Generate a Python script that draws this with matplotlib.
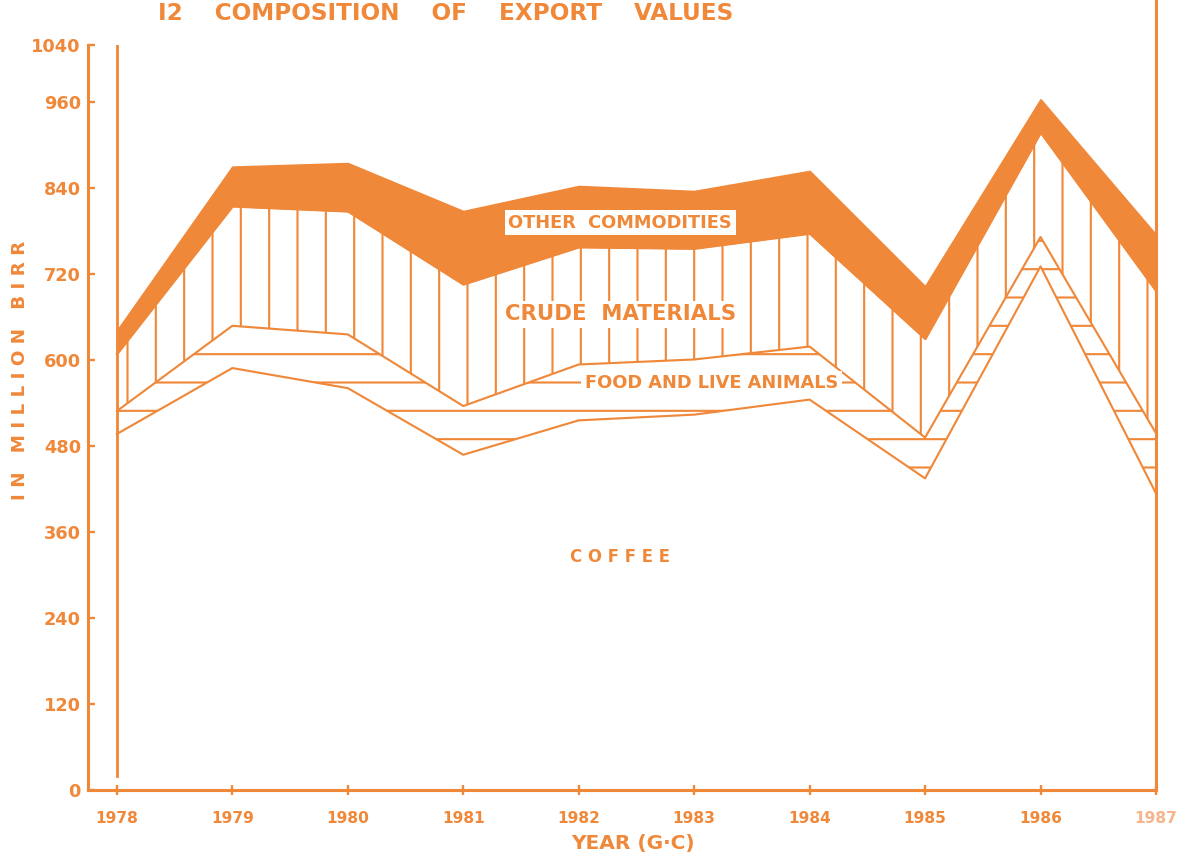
import numpy as np
import matplotlib.pyplot as plt

# данные (млн бырр), читаются с графика
years = [1978, 1979, 1980, 1981, 1982, 1983, 1984, 1985, 1986, 1987]
coffee = [497, 589, 561, 468, 516, 524, 545, 435, 731, 414]
food = [32, 59, 75, 68, 78, 77, 74, 57, 41, 84]
crude = [80, 167, 172, 170, 164, 155, 158, 138, 146, 199]
other = [32, 55, 67, 102, 85, 80, 87, 73, 46, 78]
yticks = [0, 120, 240, 360, 480, 600, 720, 840, 960, 1040]

orange = '#F0883A'
plt.rcParams['font.family'] = ['DejaVu Sans']
plt.rcParams['hatch.linewidth'] = 0.9

DPI = 170
fig = plt.figure(figsize=(1179 / DPI, 853 / DPI), dpi=DPI)
ax = fig.add_axes([88 / 1179, 1 - 790 / 853, (1156 - 88) / 1179, (790 - 45) / 853])

c1 = np.array(coffee)
c2 = c1 + np.array(food)
c3 = c2 + np.array(crude)
c4 = c3 + np.array(other)

# слои
ax.fill_between(years, c2, c3, facecolor='white', edgecolor=orange, hatch='|', linewidth=0)
ax.fill_between(years, c1, c2, facecolor='white', edgecolor=orange, hatch='-', linewidth=0)
ax.fill_between(years, c3, c4, facecolor=orange, edgecolor=orange, linewidth=0.8)
for s in (c1, c2, c3):
    ax.plot(years, s, color=orange, lw=0.9)

# вертикальные линии 1978 и 1987
ax.plot([1978, 1978], [20, 1040], color=orange, lw=1.2)
ax.plot([1987, 1987], [0, 1105], color=orange, lw=1.3, clip_on=False)

ax.set_xlim(1977.75, 1987)
ax.set_ylim(0, 1040)

for side in ('top', 'right'):
    ax.spines[side].set_visible(False)
for side in ('left', 'bottom'):
    ax.spines[side].set_color(orange)
    ax.spines[side].set_linewidth(1.3)

ax.set_yticks(yticks)
ax.set_xticks(years)
ax.tick_params(axis='y', direction='in', length=3, width=1, colors=orange, labelsize=7.5, pad=3)
ax.tick_params(axis='x', direction='inout', length=4, width=1, colors=orange, labelsize=6.5, pad=7)
for lab in ax.get_yticklabels() + ax.get_xticklabels():
    lab.set_fontweight('bold')
ax.get_xticklabels()[-1].set_color('#F5B48C')

# подписи слоёв
box = dict(facecolor='white', edgecolor='none', pad=1.5)
ax.text(1982.36, 792, 'OTHER  COMMODITIES', ha='center', va='center', color=orange,
        fontsize=7.5, fontweight='bold', bbox=box)
ax.text(1982.36, 664, 'CRUDE  MATERIALS', ha='center', va='center', color=orange,
        fontsize=9, fontweight='bold', bbox=box)
ax.text(1983.15, 568, 'FOOD AND LIVE ANIMALS', ha='center', va='center', color=orange,
        fontsize=7.5, fontweight='bold', bbox=box)
ax.text(1982.36, 325, 'C O F F E E', ha='center', va='center', color=orange,
        fontsize=7, fontweight='bold')

fig.text(20 / 1179, 1 - 370 / 853, 'I N   M I L L I O N   B I R R', rotation=90,
         ha='center', va='center', color=orange, fontsize=7.8, fontweight='bold')
fig.text(633 / 1179, 1 - 843 / 853, 'YEAR (G·C)', ha='center', va='center', color=orange,
         fontsize=8.5, fontweight='bold')
fig.text(158 / 1179, 1 - 20 / 853, 'I2    COMPOSITION    OF    EXPORT    VALUES', ha='left',
         va='baseline', color=orange, fontsize=9.8, fontweight='bold')

fig.savefig('out.png', dpi=DPI, facecolor='white')
